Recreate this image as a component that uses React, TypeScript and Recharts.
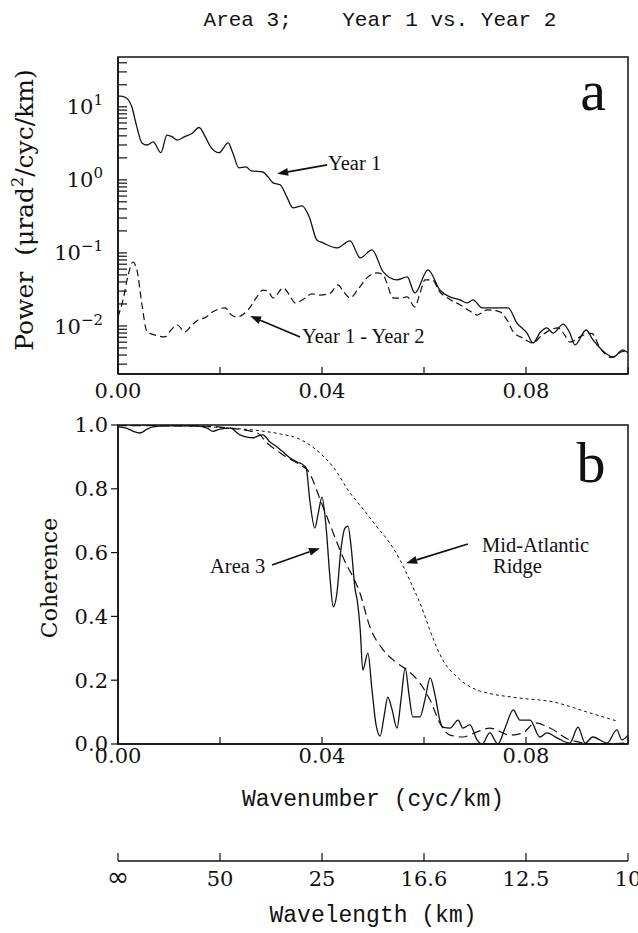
import React from "react";
import { LineChart, Line, XAxis, YAxis, ReferenceArea, ReferenceLine } from "recharts";

// wavenumber in cyc/km

// panel a: power spectra
const year1K = [0, 0.0004, 0.0014, 0.0027, 0.0037, 0.0047, 0.0057, 0.0069, 0.0084, 0.0096, 0.0106, 0.0116, 0.0131, 0.0145, 0.0159, 0.0171, 0.0182, 0.0198, 0.0216, 0.0225, 0.0237, 0.0251, 0.0261, 0.0284, 0.0294, 0.0304, 0.0318, 0.0331, 0.0343, 0.0361, 0.0375, 0.039, 0.0402, 0.0429, 0.0455, 0.0475, 0.0498, 0.052, 0.0547, 0.0567, 0.0582, 0.0608, 0.0631, 0.0651, 0.0671, 0.0684, 0.0696, 0.0714, 0.0735, 0.0765, 0.0782, 0.0802, 0.0814, 0.0827, 0.0841, 0.0853, 0.0873, 0.0886, 0.0896, 0.0918, 0.0931, 0.0945, 0.0971, 0.099, 0.1];
const year1Power = [14, 14, 13.5, 10, 5.3, 3.2, 3.0, 3.3, 2.35, 4.1, 3.9, 3.5, 3.9, 4.3, 5.2, 3.9, 2.8, 2.35, 3.2, 2.35, 1.46, 1.5, 1.33, 1.28, 1.1, 0.91, 0.855, 0.585, 0.413, 0.44, 0.31, 0.15, 0.137, 0.117, 0.146, 0.0855, 0.11, 0.055, 0.0427, 0.0469, 0.0283, 0.0585, 0.0311, 0.025, 0.0227, 0.0207, 0.0227, 0.0177, 0.0177, 0.0177, 0.011, 0.008, 0.00585, 0.008, 0.0094, 0.008, 0.0106, 0.008, 0.0055, 0.0088, 0.0065, 0.005, 0.00376, 0.0047, 0.0043];

const diffK = [0, 0.001, 0.002, 0.0029, 0.0037, 0.0047, 0.0057, 0.0073, 0.0092, 0.0104, 0.0116, 0.0131, 0.0145, 0.0157, 0.0171, 0.0186, 0.021, 0.0222, 0.0233, 0.0255, 0.0271, 0.0284, 0.0294, 0.0304, 0.0324, 0.0337, 0.0347, 0.0367, 0.038, 0.0396, 0.0416, 0.0431, 0.0443, 0.0455, 0.0471, 0.0488, 0.0508, 0.052, 0.0527, 0.0539, 0.0553, 0.0567, 0.0582, 0.0592, 0.0602, 0.0616, 0.0631, 0.0651, 0.0671, 0.069, 0.0704, 0.0724, 0.0749, 0.0763, 0.0775, 0.0794, 0.0814, 0.0827, 0.0841, 0.0863, 0.0876, 0.0886, 0.0912, 0.0929, 0.0945, 0.0969, 0.099, 0.1];
const diffPower = [0.0133, 0.023, 0.05, 0.075, 0.059, 0.0195, 0.0083, 0.0075, 0.0071, 0.0088, 0.0103, 0.0083, 0.0103, 0.0121, 0.013, 0.0156, 0.0177, 0.0142, 0.0133, 0.0166, 0.0242, 0.031, 0.03, 0.0242, 0.033, 0.026, 0.0207, 0.0242, 0.0275, 0.0265, 0.028, 0.0365, 0.029, 0.0242, 0.032, 0.0455, 0.0532, 0.05, 0.039, 0.0242, 0.024, 0.025, 0.0182, 0.028, 0.0427, 0.0427, 0.0292, 0.023, 0.0194, 0.016, 0.0141, 0.0166, 0.0156, 0.012, 0.0083, 0.0068, 0.00585, 0.007, 0.0083, 0.0094, 0.0075, 0.006, 0.0075, 0.0079, 0.005, 0.0037, 0.0045, 0.0042];

// panel b: coherence
const area3K = [0, 0.0016, 0.0029, 0.0043, 0.0057, 0.0069, 0.0092, 0.0151, 0.0175, 0.0186, 0.02, 0.022, 0.0239, 0.0253, 0.0265, 0.0275, 0.0284, 0.0298, 0.0312, 0.0324, 0.0337, 0.0351, 0.0363, 0.0369, 0.0376, 0.0386, 0.0392, 0.04, 0.0408, 0.0416, 0.0422, 0.0429, 0.0437, 0.0445, 0.0451, 0.0457, 0.0465, 0.0469, 0.0475, 0.048, 0.049, 0.0498, 0.0506, 0.0514, 0.0522, 0.0529, 0.0537, 0.0547, 0.0555, 0.0563, 0.0571, 0.0578, 0.0592, 0.0602, 0.0612, 0.0622, 0.0631, 0.0637, 0.0651, 0.0667, 0.0676, 0.069, 0.0704, 0.0714, 0.0729, 0.0745, 0.0759, 0.0775, 0.0788, 0.0808, 0.0827, 0.0841, 0.0861, 0.0886, 0.0902, 0.0916, 0.0931, 0.0959, 0.0978, 0.0988, 0.1];
const area3Coh = [0.994, 0.99, 0.981, 0.975, 0.987, 0.994, 0.997, 0.997, 0.99, 0.98, 0.987, 0.99, 0.969, 0.962, 0.96, 0.966, 0.969, 0.947, 0.931, 0.915, 0.897, 0.884, 0.875, 0.865, 0.765, 0.677, 0.718, 0.774, 0.68, 0.514, 0.43, 0.47, 0.608, 0.677, 0.683, 0.62, 0.483, 0.451, 0.357, 0.232, 0.285, 0.17, 0.06, 0.025, 0.09, 0.147, 0.11, 0.05, 0.14, 0.238, 0.15, 0.085, 0.085, 0.14, 0.207, 0.15, 0.075, 0.053, 0.05, 0.075, 0.05, 0.06, 0.013, 0, 0.035, 0, 0.05, 0.107, 0.075, 0.075, 0.022, 0.035, 0.019, 0.003, 0.053, 0.003, 0.022, 0.003, 0.044, 0.013, 0.028];

const fitK = [0, 0.0161, 0.022, 0.0273, 0.0292, 0.0324, 0.0357, 0.0371, 0.0402, 0.0441, 0.0475, 0.0494, 0.052, 0.0547, 0.0567, 0.0592, 0.0612, 0.0631, 0.0651, 0.0676, 0.0704, 0.0729, 0.0769, 0.0794, 0.0818, 0.0847, 0.0886, 0.0939, 0.1];
const fitCoh = [0.998, 0.997, 0.99, 0.975, 0.944, 0.906, 0.875, 0.86, 0.743, 0.586, 0.47, 0.367, 0.295, 0.254, 0.232, 0.191, 0.138, 0.066, 0.028, 0.022, 0.038, 0.05, 0.028, 0.035, 0.066, 0.05, 0.013, 0, 0.003];

const marK = [0, 0.0122, 0.022, 0.0278, 0.0318, 0.0357, 0.0396, 0.0422, 0.0455, 0.0484, 0.0508, 0.0533, 0.0553, 0.0573, 0.0592, 0.0618, 0.0637, 0.0665, 0.0704, 0.0724, 0.0788, 0.0853, 0.092, 0.0978];
const marCoh = [1.0, 0.998, 0.99, 0.982, 0.972, 0.955, 0.912, 0.868, 0.787, 0.73, 0.68, 0.63, 0.577, 0.51, 0.442, 0.33, 0.263, 0.21, 0.169, 0.16, 0.144, 0.132, 0.1, 0.072];

// axes
const kTicks = [0, 0.02, 0.04, 0.06, 0.08, 0.1];
const kLabelled = [0, 0.04, 0.08];
const wavelengthLabels = ["∞", "50", "25", "16.6", "12.5", "10"];
const cohTicks = [0, 0.2, 0.4, 0.6, 0.8, 1.0];
const POWER_DOMAIN = [0.0022, 48];
const decades = [-3, -2, -1, 0, 1];
const mantissas = [1, 2, 3, 4, 5, 6, 7, 8, 9];
const powerTicks = decades
  .flatMap((e) => mantissas.map((m) => m * Math.pow(10, e)))
  .filter((v) => v >= POWER_DOMAIN[0] && v <= POWER_DOMAIN[1]);

// annotation arrows (tail -> head), in data units
const year1Arrow = [{ x: 0.041, y: 1.6 }, { x: 0.0312, y: 1.21 }];
const diffArrow = [{ x: 0.0357, y: 0.00706 }, { x: 0.0259, y: 0.0137 }];
const area3Arrow = [{ x: 0.0302, y: 0.561 }, { x: 0.0396, y: 0.614 }];
const marArrow = [{ x: 0.0686, y: 0.627 }, { x: 0.0565, y: 0.567 }];

const rows = (ks: number[], vs: number[]) => ks.map((k, i) => ({ k, v: vs[i] }));
const year1Data = rows(year1K, year1Power);
const diffData = rows(diffK, diffPower);
const area3Data = rows(area3K, area3Coh);
const fitData = rows(fitK, fitCoh);
const marData = rows(marK, marCoh);

const SERIF = "DejaVu Serif";
const TIMES = "Liberation Serif";
const MONO = "Liberation Mono";
const INK = "#111";

const tickStyle = { fill: INK, fontFamily: SERIF, fontSize: 21 };
const axisLine = { stroke: INK, strokeWidth: 1.5 };
const tickLine = { stroke: INK, strokeWidth: 1.2 };

const kLabel = (v: number) => (kLabelled.some((t) => Math.abs(t - v) < 1e-9) ? v.toFixed(2) : "");

function PowerTick(props: any) {
  const { x, y, payload } = props;
  const lg = Math.log10(payload.value);
  const e = Math.round(lg);
  if (Math.abs(lg - e) > 1e-6) return null;
  const exp = e < 0 ? "\u2212" + Math.abs(e) : String(e);
  return (
    <text x={x} y={y} textAnchor="end" dy="0.36em" fill={INK} fontFamily={SERIF} fontSize={21}>
      10
      <tspan dy={-9} fontSize={15}>{exp}</tspan>
    </text>
  );
}

function WaveTick(props: any) {
  const { x, y, index } = props;
  const label = wavelengthLabels[index];
  const inf = label === "∞";
  return (
    <text x={x} y={y} dy={15} textAnchor="middle" fill={INK} fontFamily={inf ? "DejaVu Sans" : SERIF} fontSize={inf ? 27 : 21}>
      {label}
    </text>
  );
}

function Arrow(props: any) {
  const { x1, y1, x2, y2 } = props;
  const a = Math.atan2(y2 - y1, x2 - x1);
  const L = 11;
  const W = 4;
  const bx = x2 - L * Math.cos(a);
  const by = y2 - L * Math.sin(a);
  const px = -Math.sin(a) * W;
  const py = Math.cos(a) * W;
  return (
    <g>
      <line x1={x1} y1={y1} x2={bx} y2={by} stroke={INK} strokeWidth={1.7} />
      <polygon points={`${x2},${y2} ${bx + px},${by + py} ${bx - px},${by - py}`} fill={INK} />
    </g>
  );
}

function PowerPanel() {
  return (
    <LineChart width={638} height={410} margin={{ top: 57, right: 10, left: 58, bottom: 0 }}>
      <XAxis
        dataKey="k"
        type="number"
        domain={[0, 0.1]}
        ticks={kTicks}
        interval={0}
        allowDataOverflow
        height={36}
        tickSize={-7}
        tickMargin={16}
        tickFormatter={kLabel}
        tick={tickStyle}
        axisLine={axisLine}
        tickLine={tickLine}
      />
      <YAxis
        type="number"
        scale="log"
        domain={POWER_DOMAIN}
        ticks={powerTicks}
        interval={0}
        allowDataOverflow
        width={60}
        tickSize={-9}
        tickMargin={24}
        tick={(p: any) => <PowerTick {...p} />}
        axisLine={axisLine}
        tickLine={tickLine}
      />
      <ReferenceArea x1={0} x2={0.1} y1={POWER_DOMAIN[0]} y2={POWER_DOMAIN[1]} fill="none" fillOpacity={0} stroke={INK} strokeWidth={1.5} />
      <Line data={year1Data} dataKey="v" type="monotone" stroke={INK} strokeWidth={1.3} dot={false} isAnimationActive={false} />
      <Line data={diffData} dataKey="v" type="monotone" stroke={INK} strokeWidth={1.2} strokeDasharray="7 4" dot={false} isAnimationActive={false} />
      <ReferenceLine segment={year1Arrow} shape={Arrow} />
      <ReferenceLine segment={diffArrow} shape={Arrow} />
    </LineChart>
  );
}

function CoherencePanel() {
  return (
    <LineChart width={638} height={380} margin={{ top: 25, right: 10, left: 58, bottom: 0 }}>
      <XAxis
        dataKey="k"
        type="number"
        domain={[0, 0.1]}
        ticks={kTicks}
        interval={0}
        allowDataOverflow
        height={36}
        tickSize={-7}
        tickMargin={11}
        tickFormatter={kLabel}
        tick={tickStyle}
        axisLine={axisLine}
        tickLine={tickLine}
      />
      <YAxis
        type="number"
        domain={[0, 1]}
        ticks={cohTicks}
        interval={0}
        allowDataOverflow
        width={60}
        tickSize={7}
        tickMargin={3}
        tickFormatter={(v: number) => v.toFixed(1)}
        tick={tickStyle}
        axisLine={axisLine}
        tickLine={tickLine}
      />
      <ReferenceArea x1={0} x2={0.1} y1={0} y2={1} fill="none" fillOpacity={0} stroke={INK} strokeWidth={1.5} />
      <Line data={marData} dataKey="v" type="monotone" stroke={INK} strokeWidth={1} strokeDasharray="3 3" dot={false} isAnimationActive={false} />
      <Line data={fitData} dataKey="v" type="monotone" stroke={INK} strokeWidth={1.2} strokeDasharray="9 5" dot={false} isAnimationActive={false} />
      <Line data={area3Data} dataKey="v" type="monotone" stroke={INK} strokeWidth={1.3} dot={false} isAnimationActive={false} />
      <ReferenceLine segment={area3Arrow} shape={Arrow} />
      <ReferenceLine segment={marArrow} shape={Arrow} />
    </LineChart>
  );
}

function WavelengthAxis() {
  return (
    <LineChart width={638} height={153} data={kTicks.map((k) => ({ k }))} margin={{ top: 0, right: 10, left: 58, bottom: 12 }}>
      <XAxis
        dataKey="k"
        type="number"
        domain={[0, 0.1]}
        ticks={kTicks}
        interval={0}
        height={60}
        tickSize={-8}
        tickMargin={18}
        tick={(p: any) => <WaveTick {...p} />}
        axisLine={axisLine}
        tickLine={tickLine}
      />
      <YAxis width={60} domain={[0, 1]} axisLine={false} tickLine={false} tick={false} />
    </LineChart>
  );
}

export default function App() {
  const txt = { fill: INK, fontFamily: TIMES, fontSize: 20.5 };
  return (
    <div style={{ position: "absolute", left: 0, top: 0, width: 638, height: 933, background: "#fff" }}>
      <div style={{ position: "absolute", left: 0, top: 0 }}>
        <PowerPanel />
      </div>
      <div style={{ position: "absolute", left: 0, top: 400 }}>
        <CoherencePanel />
      </div>
      <div style={{ position: "absolute", left: 0, top: 780 }}>
        <WavelengthAxis />
      </div>
      <svg width={638} height={933} style={{ position: "absolute", left: 0, top: 0, pointerEvents: "none" }}>
        <text x={380} y={26} textAnchor="middle" fill={INK} fontFamily={MONO} fontSize={21} style={{ whiteSpace: "pre" }}>
          {"Area 3;    Year 1 vs. Year 2"}
        </text>
        <text x={33} y={210} transform="rotate(-90 33 210)" textAnchor="middle" fill={INK} fontFamily={SERIF} fontSize={25} style={{ whiteSpace: "pre" }}>
          {"Power  (\u03bcrad"}
          <tspan dy={-10} fontSize={16}>2</tspan>
          <tspan dy={10}>/cyc/km)</tspan>
        </text>
        <text x={57} y={578} transform="rotate(-90 57 578)" textAnchor="middle" fill={INK} fontFamily={SERIF} fontSize={22}>
          Coherence
        </text>
        <text x={373} y={806} textAnchor="middle" fill={INK} fontFamily={MONO} fontSize={23}>
          Wavenumber (cyc/km)
        </text>
        <text x={373} y={922} textAnchor="middle" fill={INK} fontFamily={MONO} fontSize={23}>
          Wavelength (km)
        </text>
        <text x={593} y={110} textAnchor="middle" fill={INK} fontFamily={TIMES} fontSize={58}>a</text>
        <text x={591} y={482} textAnchor="middle" fill={INK} fontFamily={TIMES} fontSize={58}>b</text>
        <text x={328} y={170} {...txt}>Year 1</text>
        <text x={302} y={343} {...txt}>Year 1 - Year 2</text>
        <text x={210} y={573} {...txt}>Area 3</text>
        <text x={482} y={552} {...txt}>Mid-Atlantic</text>
        <text x={493} y={573} {...txt}>Ridge</text>
      </svg>
    </div>
  );
}
